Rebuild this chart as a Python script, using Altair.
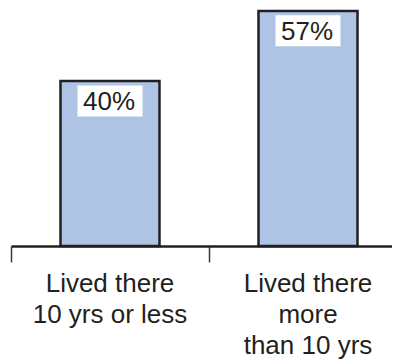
import altair as alt
import pandas as pd

categories = ["Lived there|10 yrs or less", "Lived there|more|than 10 yrs"]
values = [40, 57]
labels = ["40%", "57%"]

df = pd.DataFrame({"cat": categories, "val": values, "lab": labels})

STEP = 198
x = alt.X(
    "cat:N",
    sort=categories,
    title=None,
    scale=alt.Scale(paddingInner=0, paddingOuter=0, range=[0, 2 * STEP]),
    axis=alt.Axis(
        bandPosition=0,
        labelAngle=0,
        labelExpr="split(datum.label, '|')",
        labelFont="Liberation Sans",
        labelFontSize=26,
        labelColor="#231f20",
        labelLineHeight=31,
        labelPadding=8,
        labelLimit=0,
        labelOverlap=False,
        labelBound=False,
        labelFlush=False,
        domainColor="#231f20",
        domainWidth=2.5,
        tickColor="#3a3a3a",
        tickWidth=1.5,
        tickSize=16,
    ),
)
y = alt.Y("val:Q", scale=alt.Scale(domain=[0, 57.7], nice=False, zero=True), axis=None)

base = alt.Chart(df).encode(x=x, y=y)

bars = base.mark_bar(width=99, fill="#afc4e5", stroke="#231f20", strokeWidth=2.5)

box = base.mark_point(
    shape="M-1,0.135H1V1.09H-1Z",
    size=65 * 65,
    filled=True,
    fill="white",
    opacity=1,
    strokeWidth=0,
)

txt = base.mark_text(
    baseline="alphabetic",
    align="center",
    dy=29,
    dx=-1,
    font="Liberation Sans",
    fontSize=26,
    color="#231f20",
).encode(text="lab:N")

chart = (
    alt.layer(bars, box, txt)
    .properties(
        width=381,
        height=238,
        autosize=alt.AutoSizeParams(type="none"),
        padding={"left": 3, "top": 0, "right": 0, "bottom": 114},
    )
    .configure_view(stroke=None)
)

chart.save("out.html", embed_options={"renderer": "svg", "actions": False})
